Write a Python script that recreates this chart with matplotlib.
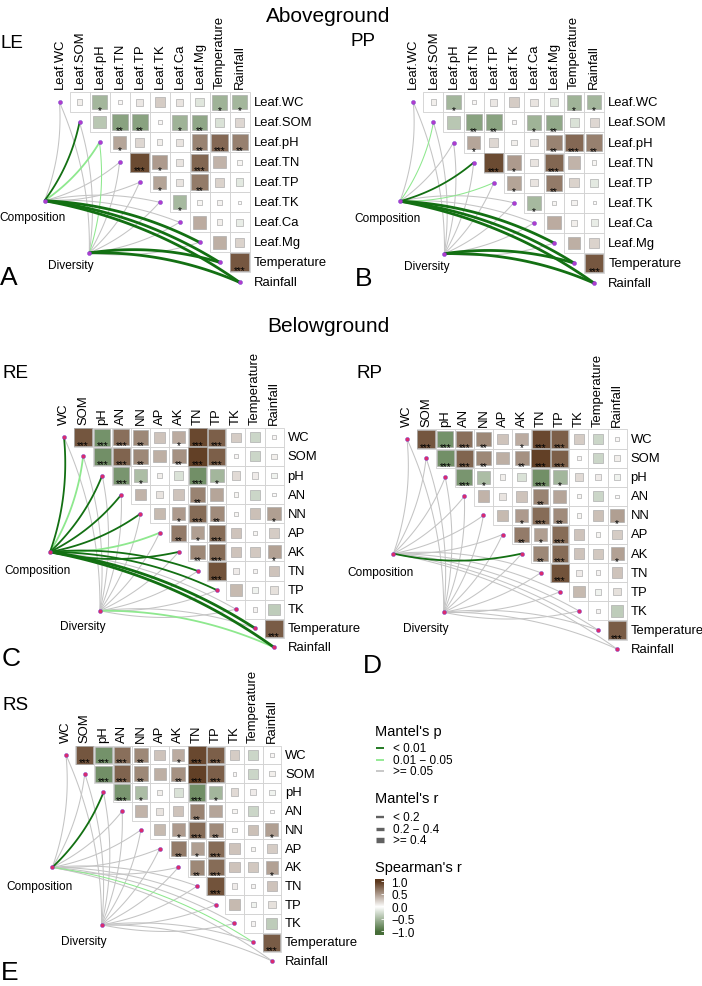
import numpy as np
import matplotlib
matplotlib.use("Agg")
import matplotlib.pyplot as plt
from matplotlib.colors import LinearSegmentedColormap, Normalize
from matplotlib.patches import Rectangle

plt.rcParams['font.family'] = ['Liberation Sans', 'DejaVu Sans']

W, H = 702, 987
fig = plt.figure(figsize=(W / 100, H / 100), dpi=100)

# ---------------------------------------------------------------- data
leaf_vars = ["Leaf.WC", "Leaf.SOM", "Leaf.pH", "Leaf.TN", "Leaf.TP", "Leaf.TK",
             "Leaf.Ca", "Leaf.Mg", "Temperature", "Rainfall"]
soil_vars = ["WC", "SOM", "pH", "AN", "NN", "AP", "AK", "TN", "TP", "TK",
             "Temperature", "Rainfall"]

# Spearman's r, upper triangle, row i holds columns i+1..n-1
leaf_r = [
    [0.08, -0.50, 0.04, 0.12, 0.25, 0.14, -0.17, -0.52, -0.50],
    [-0.38, -0.64, -0.64, 0.04, -0.52, -0.60, -0.20, 0.20],
    [0.45, 0.20, 0.08, 0.14, 0.62, 0.75, 0.64],
    [0.90, 0.50, 0.14, 0.76, 0.38, 0.05],
    [0.46, 0.14, 0.66, 0.22, -0.15],
    [-0.48, 0.05, 0.07, 0.02],
    [0.42, 0.08, -0.12],
    [0.40, 0.22],
    [0.84],
]
leaf_sig = [
    ["", "*", "", "", "", "", "", "*", "*"],
    ["", "**", "**", "", "*", "**", "", ""],
    ["*", "", "", "", "**", "***", "**"],
    ["***", "*", "", "***", "", ""],
    ["*", "", "**", "", ""],
    ["*", "", "", ""],
    ["", "", ""],
    ["", ""],
    ["***"],
]
soil_r = [
    [0.85, -0.75, 0.72, 0.60, 0.30, 0.42, 0.92, 0.80, 0.25, -0.28, 0.04],
    [-0.76, 0.78, 0.60, 0.40, 0.55, 0.96, 0.80, 0.04, -0.28, 0.08],
    [-0.72, -0.45, 0.08, -0.20, -0.76, -0.50, 0.18, 0.10, -0.08],
    [0.38, 0.14, 0.30, 0.62, 0.45, 0.05, -0.28, 0.03],
    [0.35, 0.50, 0.74, 0.58, 0.05, 0.32, 0.48],
    [0.66, 0.48, 0.74, 0.30, 0.05, 0.25],
    [0.60, 0.74, 0.30, 0.28, 0.47],
    [0.86, 0.10, 0.06, 0.30],
    [0.35, -0.08, 0.15],
    [0.06, -0.35],
    [0.82],
]
soil_sig = [
    ["***", "***", "***", "**", "", "*", "***", "***", "", "", ""],
    ["***", "***", "**", "", "**", "***", "***", "", "", ""],
    ["***", "*", "", "", "***", "*", "", "", ""],
    ["", "", "", "**", "", "", "", ""],
    ["", "*", "***", "**", "", "", "*"],
    ["**", "*", "***", "", "", ""],
    ["**", "***", "", "", "*"],
    ["***", "", "", ""],
    ["", "", ""],
    ["", ""],
    ["***"],
]

# Mantel tests (estimated): p and r per environmental variable
LE_comp_p = [0.21, 0.004, 0.03, 0.35, 0.28, 0.40, 0.19, 0.002, 0.001, 0.001]
LE_comp_r = [0.08, 0.28, 0.22, 0.05, 0.07, 0.03, 0.09, 0.45, 0.52, 0.50]
LE_div_p = [0.30, 0.25, 0.03, 0.40, 0.50, 0.30, 0.60, 0.20, 0.001, 0.001]
LE_div_r = [0.05, 0.07, 0.16, 0.04, 0.02, 0.06, 0.01, 0.09, 0.48, 0.46]

PP_comp_p = [0.30, 0.03, 0.20, 0.004, 0.02, 0.30, 0.40, 0.001, 0.001, 0.001]
PP_comp_r = [0.05, 0.18, 0.10, 0.30, 0.17, 0.04, 0.06, 0.45, 0.55, 0.52]
PP_div_p = [0.40, 0.30, 0.35, 0.20, 0.25, 0.50, 0.60, 0.15, 0.001, 0.001]
PP_div_r = [0.03, 0.05, 0.06, 0.09, 0.08, 0.02, 0.01, 0.10, 0.58, 0.56]

RE_comp_p = [0.002, 0.02, 0.003, 0.004, 0.005, 0.03, 0.006, 0.002, 0.004, 0.30, 0.001, 0.001]
RE_comp_r = [0.32, 0.25, 0.30, 0.28, 0.27, 0.22, 0.26, 0.30, 0.28, 0.10, 0.45, 0.48]
RE_div_p = [0.40, 0.30, 0.50, 0.35, 0.25, 0.45, 0.30, 0.20, 0.40, 0.30, 0.15, 0.03]
RE_div_r = [0.05, 0.06, 0.03, 0.05, 0.08, 0.04, 0.06, 0.09, 0.05, 0.07, 0.12, 0.22]

RP_comp_p = [0.40, 0.30, 0.50, 0.35, 0.25, 0.45, 0.008, 0.20, 0.40, 0.30, 0.15, 0.20]
RP_comp_r = [0.05, 0.06, 0.03, 0.05, 0.08, 0.04, 0.25, 0.09, 0.05, 0.07, 0.12, 0.10]
RP_div_p = [0.50, 0.40, 0.30, 0.45, 0.35, 0.25, 0.30, 0.40, 0.20, 0.30, 0.40, 0.50]
RP_div_r = [0.04, 0.05, 0.06, 0.04, 0.05, 0.07, 0.06, 0.05, 0.08, 0.06, 0.05, 0.04]

RS_comp_p = [0.40, 0.30, 0.003, 0.35, 0.25, 0.45, 0.30, 0.20, 0.40, 0.30, 0.04, 0.20]
RS_comp_r = [0.05, 0.06, 0.30, 0.05, 0.08, 0.04, 0.06, 0.09, 0.05, 0.07, 0.15, 0.10]
RS_div_p = [0.50, 0.40, 0.30, 0.45, 0.35, 0.25, 0.30, 0.40, 0.20, 0.30, 0.40, 0.50]
RS_div_r = [0.04, 0.05, 0.06, 0.04, 0.05, 0.07, 0.06, 0.05, 0.08, 0.06, 0.05, 0.04]

p_labels = ["< 0.01", "0.01 \u2212 0.05", ">= 0.05"]
r_labels = ["< 0.2", "0.2 \u2212 0.4", ">= 0.4"]
cbar_ticks = [1.0, 0.5, 0.0, -0.5, -1.0]

# ---------------------------------------------------------------- styles
cmap = LinearSegmentedColormap.from_list("spear", ["#466D38", "#FFFFFF", "#5C381D"])
norm = Normalize(-1, 1)
p_colors = ["#137013", "#8EE88E", "#C4C4C4"]
r_widths = [0.75, 1.3, 2.0]
r_key_widths = [1.7, 2.4, 3.9]
FS_LAB = 9.4


def p_class(p):
    return 0 if p < 0.01 else (1 if p < 0.05 else 2)


def r_class(r):
    return 0 if r < 0.2 else (1 if r < 0.4 else 2)


def bezier(S, E, k=0.11, npts=50):
    S = np.asarray(S, float)
    E = np.asarray(E, float)
    d = E - S
    L = np.hypot(*d)
    nR = np.array([-d[1], d[0]]) / L
    sign = 1.0 if d[1] <= 0 else -1.0
    ctrl = (S + E) / 2 + sign * k * L * nR
    t = np.linspace(0, 1, npts)[:, None]
    pts = (1 - t) ** 2 * S + 2 * (1 - t) * t * ctrl + t ** 2 * E
    return pts[:, 0], pts[:, 1]


def fig_text(x, y, s, **kw):
    fig.text(x / W, 1 - y / H, s, **kw)


def panel(x0, y0, c, names, rmat, sig, comp_xy, div_xy, links, dotcol,
          comp_off, div_off):
    n = len(names)
    xa, xb = -2.0, n + 0.5
    yt, yb = -1.0, n + 0.5
    ax = fig.add_axes([(x0 + xa * c) / W, 1 - (y0 + yb * c) / H,
                       (xb - xa) * c / W, (yb - yt) * c / H])
    ax.set_xlim(xa, xb)
    ax.set_ylim(yb, yt)
    ax.axis("off")
    # heatmap
    for i in range(n):
        for k, j in enumerate(range(i + 1, n)):
            r = rmat[i][k]
            ax.add_patch(Rectangle((j - 0.5, i - 0.5), 1, 1, fc="white",
                                   ec="#D0D0D0", lw=0.6, zorder=1))
            s = np.sqrt(abs(r))
            ax.add_patch(Rectangle((j - s / 2, i - s / 2), s, s,
                                   fc=cmap(norm(r)), ec="#A8A8A8", lw=0.45,
                                   zorder=2))
            if sig[i][k]:
                ax.text(j, i + 0.56, sig[i][k], ha="center", va="baseline",
                        fontsize=7.2, color="black", zorder=3)
    for i, nm in enumerate(names):
        ax.text(n - 0.5 + 0.2, i, nm, ha="left", va="center",
                fontsize=FS_LAB, clip_on=False)
        ax.text(i, -0.5 - 0.2, nm, ha="center", va="bottom", rotation=90,
                fontsize=FS_LAB, clip_on=False)
    # links
    segs = []
    for node, (pv, rv) in zip([comp_xy, div_xy], links):
        for k in range(n):
            segs.append((p_class(pv[k]), r_class(rv[k]), node, (k, k)))
    for pc_draw in [2, 1, 0]:
        for pc, rc, node, tgt in segs:
            if pc != pc_draw:
                continue
            xs, ys = bezier(node, tgt)
            ax.plot(xs, ys, color=p_colors[pc], lw=r_widths[rc],
                    solid_capstyle="butt", zorder=4, clip_on=False)
    idx = np.arange(n)
    ax.plot(idx, idx, "o", ms=2.9, color=dotcol, mec="#6A3BD0", mew=0.3,
            zorder=5, clip_on=False)
    ax.plot([comp_xy[0], div_xy[0]], [comp_xy[1], div_xy[1]], "o", ms=2.9,
            color=dotcol, mec="#6A3BD0", mew=0.3, zorder=5, clip_on=False)
    ax.text(comp_xy[0] + comp_off[0] / c, comp_xy[1] + comp_off[1] / c,
            "Composition", ha="center", va="center", fontsize=8.6, clip_on=False)
    ax.text(div_xy[0] + div_off[0] / c, div_xy[1] + div_off[1] / c,
            "Diversity", ha="center", va="center", fontsize=8.6, clip_on=False)
    return ax


dot_ab = "#B13CCB"
dot_ce = "#DD2A6C"

panel(59.5, 103.3, 20.0, leaf_vars, leaf_r, leaf_sig, (-0.75, 4.92), (1.49, 7.53),
      [(LE_comp_p, LE_comp_r), (LE_div_p, LE_div_r)], dot_ab, (-12.5, 16.6), (-18, 12.5))
panel(413.3, 103.3, 20.1, leaf_vars, leaf_r, leaf_sig, (-0.66, 4.92), (1.55, 7.53),
      [(PP_comp_p, PP_comp_r), (PP_div_p, PP_div_r)], dot_ab, (-12.5, 16.6), (-18, 12.5))
panel(64.0, 438.3, 19.1, soil_vars, soil_r, soil_sig, (-0.73, 6.0), (1.88, 9.08),
      [(RE_comp_p, RE_comp_r), (RE_div_p, RE_div_r)], dot_ce, (-12.5, 18), (-17.5, 15.5))
panel(407.0, 440.0, 19.1, soil_vars, soil_r, soil_sig, (-0.71, 6.0), (1.92, 9.07),
      [(RP_comp_p, RP_comp_r), (RP_div_p, RP_div_r)], dot_ce, (-12.5, 18), (-17.5, 15.5))
panel(66.0, 756.0, 18.72, soil_vars, soil_r, soil_sig, (-0.73, 6.0), (1.9, 9.07),
      [(RS_comp_p, RS_comp_r), (RS_div_p, RS_div_r)], dot_ce, (-12.5, 18.5), (-17.5, 16.5))

# ---------------------------------------------------------------- titles / letters
fig_text(328, 16, "Aboveground", ha="center", va="center", fontsize=15)
fig_text(328, 326, "Belowground", ha="center", va="center", fontsize=15)
for x, y, s in [(1, 43, "LE"), (351, 41, "PP"), (3, 374, "RE"), (356, 374, "RP"),
                (3, 705, "RS")]:
    fig_text(x, y, s, ha="left", va="center", fontsize=13.6)
for x, y, s in [(0, 278, "A"), (355, 279, "B"), (2, 659, "C"), (363, 666, "D"),
                (1, 973, "E")]:
    fig_text(x, y, s, ha="left", va="center", fontsize=19)

# ---------------------------------------------------------------- legend
lg = fig.add_axes([0, 0, 1, 1], zorder=-1)
lg.set_xlim(0, W)
lg.set_ylim(H, 0)
lg.axis("off")
fig_text(375, 732, "Mantel's p", ha="left", va="center", fontsize=10.5)
for k, (lab, yy) in enumerate(zip(p_labels, [749, 760.7, 772.3])):
    lg.plot([376, 384], [yy, yy], color=p_colors[k], lw=1.3, solid_capstyle="butt")
    fig_text(392.7, yy, lab, ha="left", va="center", fontsize=8.5)
fig_text(375, 799, "Mantel's r", ha="left", va="center", fontsize=10.5)
for k, (lab, yy) in enumerate(zip(r_labels, [818.3, 829.7, 841])):
    lg.plot([375.5, 384], [yy, yy], color="#616161", lw=r_key_widths[k],
            solid_capstyle="butt")
    fig_text(392.7, yy, lab, ha="left", va="center", fontsize=8.5)
fig_text(375, 868, "Spearman's r", ha="left", va="center", fontsize=10.5)

top_px, bot_px = 879.5, 935.5
v_top, v_bot = 1.1, -1.12
cax = fig.add_axes([375.3 / W, 1 - bot_px / H, 9 / W, (bot_px - top_px) / H])
grad = np.linspace(v_top, v_bot, 256)[:, None]
cax.imshow(grad, aspect="auto", cmap=cmap, norm=norm,
           extent=[0, 1, v_bot, v_top], origin="upper")
cax.set_ylim(v_bot, v_top)
cax.set_xlim(0, 1)
cax.set_xticks([])
cax.yaxis.tick_right()
cax.set_yticks(cbar_ticks)
cax.set_yticklabels([f"{t:.1f}".replace("-", "\u2212") for t in cbar_ticks])
cax.tick_params(axis="y", length=2, width=0.6, color="white", direction="in",
                labelsize=8.5, pad=5)
for sp in cax.spines.values():
    sp.set_visible(False)

fig.savefig("out.png", dpi=100)
